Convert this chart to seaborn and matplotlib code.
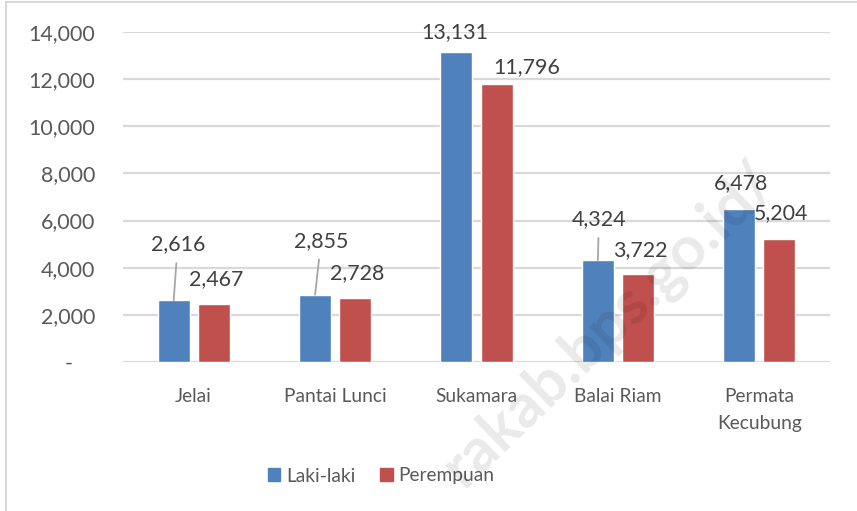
import matplotlib
matplotlib.use("Agg")
import matplotlib.pyplot as plt
import seaborn as sns
import pandas as pd
from matplotlib.patches import Rectangle
from matplotlib.ticker import FuncFormatter

# ---- data ----
categories = ["Jelai", "Pantai Lunci", "Sukamara", "Balai Riam", "Permata\nKecubung"]
laki_laki = [2616, 2855, 13131, 4324, 6478]
perempuan = [2467, 2728, 11796, 3722, 5204]
series_names = ["Laki-laki", "Perempuan"]
y_ticks = [0, 2000, 4000, 6000, 8000, 10000, 12000, 14000]
watermark = "rakab.bps.go.id/"

# ---- style ----
sns.set_theme(style="white")
plt.rcParams["font.family"] = ["Lato", "DejaVu Sans"]
BLUE = "#4F81BD"
RED = "#C0504D"
GRID = "#D9D9D9"
TICK_C = "#595959"
LABEL_C = "#404040"
FS_NUM = 15.4
FS_TXT = 13.8

df = pd.DataFrame({
    "Kecamatan": categories * 2,
    "Jenis": [series_names[0]] * len(categories) + [series_names[1]] * len(categories),
    "Jumlah": laki_laki + perempuan,
})

W, H = 857, 511
fig = plt.figure(figsize=(W / 100, H / 100), dpi=100)
ax = fig.add_axes([123 / W, 1 - 362 / H, (830 - 123) / W, (362 - 32) / H])

sns.barplot(data=df, x="Kecamatan", y="Jumlah", hue="Jenis", order=categories,
            hue_order=series_names, palette=[BLUE, RED], width=0.566, gap=0.2,
            saturation=1, ax=ax, legend=False, zorder=3)

ax.set_ylim(0, 14000)
ax.set_xlim(-0.5, len(categories) - 0.5)
ax.set_yticks(y_ticks)
ax.yaxis.set_major_formatter(FuncFormatter(lambda v, p: "-    " if v == 0 else f"{int(v):,}"))
ax.grid(axis="y", color=GRID, lw=1.6, zorder=0)
ax.set_axisbelow(True)
for s in ax.spines.values():
    s.set_visible(False)
ax.set_xlabel("")
ax.set_ylabel("")
ax.tick_params(axis="y", length=0, pad=20, labelsize=FS_NUM, labelcolor=TICK_C)
ax.tick_params(axis="x", length=0, pad=18.5, labelsize=FS_TXT, labelcolor=TICK_C)
for t in ax.get_xticklabels():
    t.set_linespacing(1.72)

# ---- data labels (offsets in pixels from bar top) ----
lab_off = [
    [(4, 56, True), (6, 54, True), (-2, 20, False), (1, 41, True), (2, 26, False)],
    [(2, 25, False), (2, 25, False), (30, 17, False), (2, 24, False), (2, 26, False)],
]
for si, cont in enumerate(ax.containers):
    for bi, bar in enumerate(cont):
        v = bar.get_height()
        dx, dy, leader = lab_off[si][bi]
        xc = bar.get_x() + bar.get_width() / 2
        kw = {}
        if leader:
            kw["arrowprops"] = dict(arrowstyle="-", color="#A6A6A6", lw=1.3,
                                    shrinkA=4, shrinkB=0)
        ax.annotate(f"{int(v):,}", xy=(xc, v), xytext=(dx, dy),
                    textcoords="offset pixels", ha="center", va="center",
                    fontsize=FS_NUM, color=LABEL_C, zorder=5, **kw)

# ---- legend ----
handles = [Rectangle((0, 0), 1, 1, color=BLUE), Rectangle((0, 0), 1, 1, color=RED)]
fig.legend(handles, series_names, loc="center", bbox_to_anchor=(381 / W, 1 - 476 / H),
           ncol=2, frameon=False, fontsize=FS_TXT, handlelength=0.65, handleheight=0.65,
           handletextpad=0.3, columnspacing=1.3, labelcolor=TICK_C)

# ---- chart border ----
fig.add_artist(Rectangle((6 / W, -0.1), 1.2, 1 - 2 / H + 0.1, transform=fig.transFigure,
                         fill=False, edgecolor=GRID, lw=1.5, zorder=0))

# ---- watermark ----
fig.text(766 / W, 1 - 172 / H, watermark, rotation=44, rotation_mode="anchor",
         ha="right", va="center", fontsize=44, fontweight="bold", color="#000000",
         alpha=0.085, zorder=10)

fig.savefig("out.png", dpi=100)
